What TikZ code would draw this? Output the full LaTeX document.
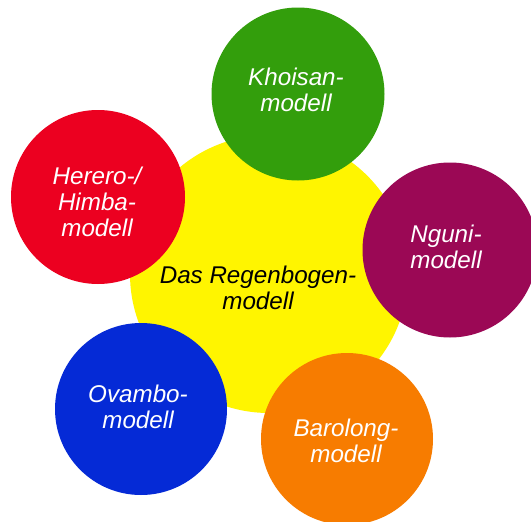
\documentclass[tikz,border=0pt]{standalone}
\usepackage{fontspec}
\setmainfont{Liberation Sans}
\definecolor{cyellow}{RGB}{255,245,0}
\definecolor{cgreen}{RGB}{51,158,12}
\definecolor{cred}{RGB}{236,0,32}
\definecolor{cpurple}{RGB}{155,8,85}
\definecolor{cblue}{RGB}{5,42,214}
\definecolor{corange}{RGB}{247,124,0}
\begin{document}
\begin{tikzpicture}[x=1pt,y=-1pt,
  disc/.style={circle, inner sep=0pt, minimum size=#1},
  lbl/.style={align=center, font=\fontsize{24.2}{26}\selectfont\itshape, inner sep=0pt, text=white},
]
\useasboundingbox (0,0) rectangle (531,522);
\fill[white] (0,0) rectangle (531,522);
\node[disc=278pt, fill=cyellow] (rainbow) at (269,274) {};
\node[disc=173pt, fill=cgreen] (khoisan) at (298,94) {};
\node[disc=174pt, fill=cred] (herero) at (98,197) {};
\node[disc=175pt, fill=cpurple] (nguni) at (450,250) {};
\node[disc=172pt, fill=cblue] (ovambo) at (141,409) {};
\node[disc=172pt, fill=corange] (barolong) at (347,439) {};
\node[lbl, text=black] (trainbow) at (258,288.3) {Das Regenbogen-\\modell};
\node[lbl] (tkhoisan) at (296,90.3) {Khoisan-\\modell};
\node[lbl] (therero) at (97,201.8) {Herero-/\\Himba-\\modell};
\node[lbl] (tnguni) at (446,246.8) {Nguni-\\modell};
\node[lbl] (tovambo) at (138,407.3) {Ovambo-\\modell};
\node[lbl] (tbarolong) at (346,441.3) {Barolong-\\modell};
\end{tikzpicture}
\end{document}
